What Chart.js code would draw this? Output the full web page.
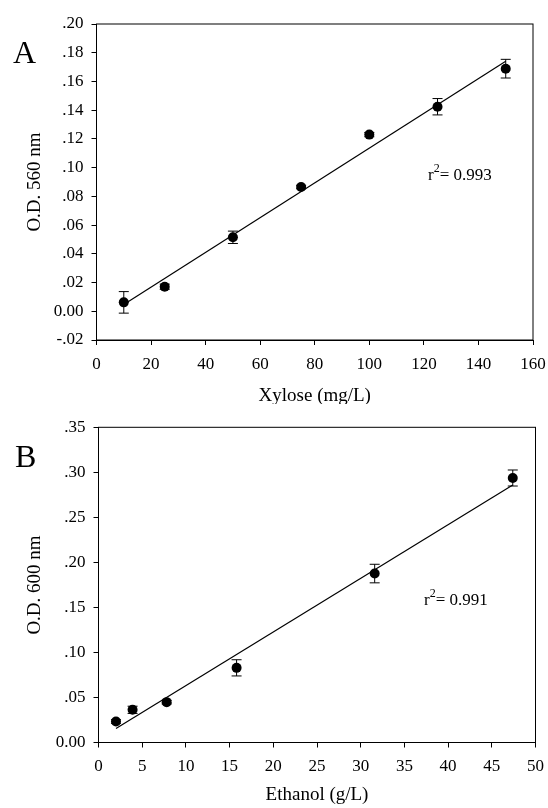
<!DOCTYPE html>
<html>
<head>
<meta charset="utf-8">
<script src="https://cdn.jsdelivr.net/npm/chart.js@4.4.0/dist/chart.umd.min.js"></script>
<style>
body { margin: 0; background: #fff; }
#wrap { position: relative; width: 548px; height: 808px; }
canvas { position: absolute; left: 0; }
</style>
</head>
<body>
<div id="wrap">
  <canvas id="chartA" width="548" height="404" style="top:0px"></canvas>
  <canvas id="chartB" width="548" height="404" style="top:404px"></canvas>
</div>
<script>
// panel A - xylose standard curve
var xyloseConc = [10, 25, 50, 75, 100, 125, 150]
var xyloseOD = [0.0062, 0.0171, 0.0515, 0.0865, 0.1230, 0.1424, 0.1689]
var xyloseErr = [0.0075, 0.0018, 0.0043, 0.0012, 0.0015, 0.0057, 0.0065]
var xTicksA = [0, 20, 40, 60, 80, 100, 120, 140, 160]
var yTicksA = [-0.02, 0, 0.02, 0.04, 0.06, 0.08, 0.10, 0.12, 0.14, 0.16, 0.18, 0.20]
var yLabelsA = ['-.02', '0.00', '.02', '.04', '.06', '.08', '.10', '.12', '.14', '.16', '.18', '.20']

// panel B - ethanol standard curve
var ethanolConc = [2, 3.9, 7.8, 15.8, 31.6, 47.4]
var ethanolOD = [0.0233, 0.0363, 0.0448, 0.0829, 0.1876, 0.2937]
var ethanolErr = [0.0020, 0.0040, 0.0020, 0.0090, 0.0103, 0.0089]
var xTicksB = [0, 5, 10, 15, 20, 25, 30, 35, 40, 45, 50]
var yTicksB = [0, 0.05, 0.10, 0.15, 0.20, 0.25, 0.30, 0.35]
var yLabelsB = ['0.00', '.05', '.10', '.15', '.20', '.25', '.30', '.35']

var serif = "'Liberation Serif', 'DejaVu Serif', serif"

// least squares line through the points
function linFit(xs, ys) {
    var n = xs.length, mx = 0, my = 0
    for (var i = 0; i < n; i++) { mx += xs[i]; my += ys[i] }
    mx /= n; my /= n
    var sxx = 0, sxy = 0
    for (var i = 0; i < n; i++) {
        sxx += (xs[i] - mx) * (xs[i] - mx)
        sxy += (xs[i] - mx) * (ys[i] - my)
    }
    var slope = sxy / sxx
    return { slope: slope, icpt: my - slope * mx }
}

var errorBars = {
    id: 'errorBars',
    beforeDatasetsDraw(chart, args, opts) {
        var ctx = chart.ctx, xs = chart.scales.x, ys = chart.scales.y
        ctx.save()
        ctx.strokeStyle = '#000'
        ctx.lineWidth = 1
        for (var i = 0; i < opts.x.length; i++) {
            var px = xs.getPixelForValue(opts.x[i])
            var top = ys.getPixelForValue(opts.y[i] + opts.err[i])
            var bot = ys.getPixelForValue(opts.y[i] - opts.err[i])
            ctx.beginPath()
            ctx.moveTo(px, top); ctx.lineTo(px, bot)
            ctx.moveTo(px - 5, top); ctx.lineTo(px + 5, top)
            ctx.moveTo(px - 5, bot); ctx.lineTo(px + 5, bot)
            ctx.stroke()
        }
        ctx.restore()
    }
}

var frameAndText = {
    id: 'frameAndText',
    afterDraw(chart, args, opts) {
        var ctx = chart.ctx, a = chart.chartArea
        ctx.save()
        ctx.strokeStyle = '#000'
        ctx.lineWidth = 1
        ctx.strokeRect(a.left, a.top, a.right - a.left, a.bottom - a.top)
        ctx.fillStyle = '#000'

        ctx.font = '32px ' + serif
        ctx.textAlign = 'left'
        ctx.textBaseline = 'alphabetic'
        ctx.fillText(opts.panel, opts.panelX, opts.panelY)

        ctx.font = '19px ' + serif
        ctx.textAlign = 'center'
        ctx.fillText(opts.xTitle, (a.left + a.right) / 2, opts.xTitleY)

        ctx.save()
        ctx.translate(opts.yTitleX, opts.yTitleY)
        ctx.rotate(-Math.PI / 2)
        ctx.textBaseline = 'middle'
        ctx.fillText(opts.yTitle, 0, 0)
        ctx.restore()

        // r squared with superscript
        ctx.textAlign = 'left'
        ctx.font = '17px ' + serif
        var x = opts.rX
        ctx.fillText('r', x, opts.rY)
        x += ctx.measureText('r').width
        ctx.font = '12px ' + serif
        ctx.fillText('2', x, opts.rY - 8)
        x += ctx.measureText('2').width
        ctx.font = '17px ' + serif
        ctx.fillText('= ' + opts.r2, x, opts.rY)
        ctx.restore()
    }
}

function drawPanel(id, xs, ys, errs, xTicks, yTicks, yLabels, box, text) {
    var fit = linFit(xs, ys)
    var x0 = xs[0], x1 = xs[xs.length - 1]
    var fitLine = [{ x: x0, y: fit.icpt + fit.slope * x0 }, { x: x1, y: fit.icpt + fit.slope * x1 }]
    var pts = xs.map((v, i) => ({ x: v, y: ys[i] }))
    var tickFont = { family: serif, size: 17 }

    new Chart(document.getElementById(id).getContext('2d'), {
        type: 'scatter',
        data: {
            datasets: [{
                data: pts,
                pointRadius: 5,
                pointHoverRadius: 5,
                backgroundColor: '#000',
                borderColor: '#000',
                borderWidth: 0
            }, {
                data: fitLine,
                showLine: true,
                pointRadius: 0,
                borderColor: '#000',
                borderWidth: 1.2
            }]
        },
        options: {
            responsive: false,
            animation: false,
            layout: { padding: { left: 0, top: box.top, right: box.right, bottom: 0 } },
            plugins: {
                legend: { display: false },
                tooltip: { enabled: false },
                errorBars: { x: xs, y: ys, err: errs },
                frameAndText: text
            },
            scales: {
                x: {
                    type: 'linear',
                    min: xTicks[0],
                    max: xTicks[xTicks.length - 1],
                    afterBuildTicks: s => { s.ticks = xTicks.map(v => ({ value: v })) },
                    afterFit: s => { s.height = box.xh; s.paddingLeft = 0; s.paddingRight = 0 },
                    grid: { drawOnChartArea: false, tickLength: 5, tickColor: '#000' },
                    border: { display: true, color: '#000', width: 1 },
                    ticks: { color: '#000', font: tickFont, padding: 9, maxRotation: 0, autoSkip: false,
                        callback: v => String(v) }
                },
                y: {
                    type: 'linear',
                    min: yTicks[0],
                    max: yTicks[yTicks.length - 1],
                    afterBuildTicks: s => { s.ticks = yTicks.map(v => ({ value: v })) },
                    afterFit: s => { s.width = box.yw; s.paddingTop = 0; s.paddingBottom = 0 },
                    grid: { drawOnChartArea: false, tickLength: 5, tickColor: '#000' },
                    border: { display: true, color: '#000', width: 1 },
                    ticks: { color: '#000', font: tickFont, padding: 8, autoSkip: false,
                        callback: (v, i) => yLabels[i] }
                }
            }
        },
        plugins: [errorBars, frameAndText]
    })
}

drawPanel('chartA', xyloseConc, xyloseOD, xyloseErr, xTicksA, yTicksA, yLabelsA,
    { top: 24, right: 15, xh: 64, yw: 96.5 },
    { panel: 'A', panelX: 13, panelY: 63, xTitle: 'Xylose (mg/L)', xTitleY: 401,
      yTitle: 'O.D. 560 nm', yTitleX: 35, yTitleY: 182, r2: '0.993', rX: 428, rY: 180 })

drawPanel('chartB', ethanolConc, ethanolOD, ethanolErr, xTicksB, yTicksB, yLabelsB,
    { top: 23.3, right: 12.5, xh: 65.5, yw: 98.5 },
    { panel: 'B', panelX: 15, panelY: 63, xTitle: 'Ethanol (g/L)', xTitleY: 396,
      yTitle: 'O.D. 600 nm', yTitleX: 35, yTitleY: 181, r2: '0.991', rX: 424, rY: 201 })
</script>
</body>
</html>
